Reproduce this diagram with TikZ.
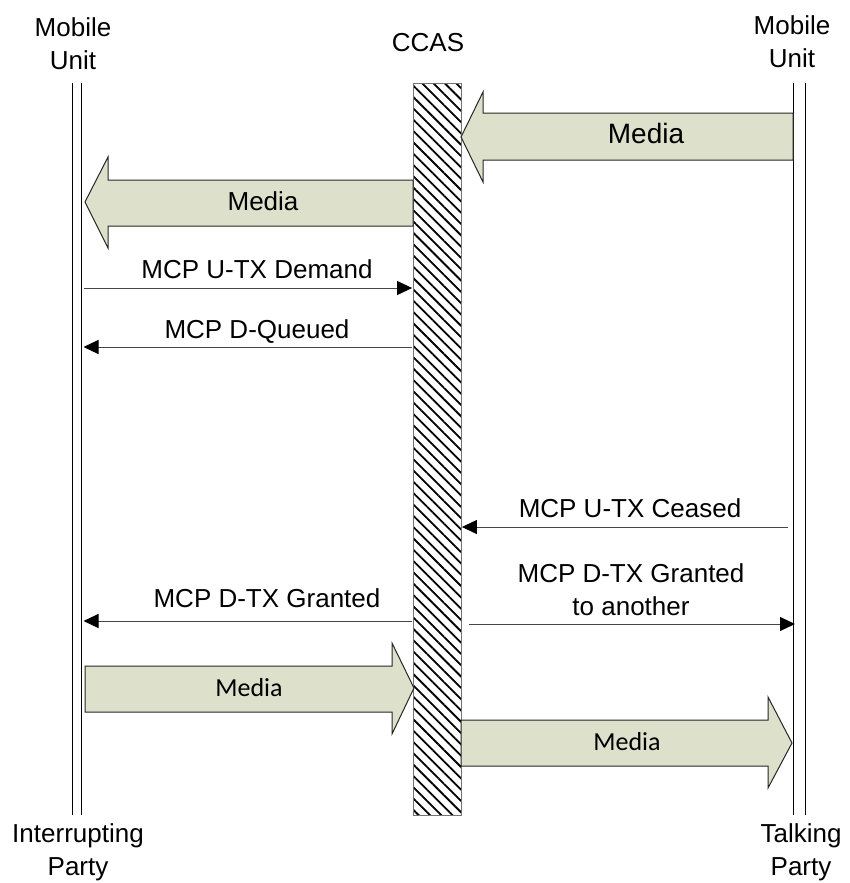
\documentclass[tikz,border=0pt]{standalone}
\usepackage{fontspec}
\setmainfont{Liberation Sans}
\newfontfamily\mediafont{Carlito}
\usetikzlibrary{arrows.meta,patterns.meta}
\definecolor{mediafill}{RGB}{221,224,203}
\definecolor{msggray}{RGB}{70,70,70}
\tikzset{
  lbl/.style={font=\fontsize{26}{33}\selectfont, inner sep=0pt, anchor=base, align=center},
  msg/.style={draw=msggray, line width=1pt, -{Triangle[length=15pt,width=14pt,color=black]}},
  media/.style={draw=black!85, fill=mediafill, line width=1pt, line join=miter},
  lifeline/.style={minimum width=#1, minimum height=732pt, inner sep=0pt, outer sep=0pt}
}

\begin{document}
\begin{tikzpicture}[x=1pt, y=-1pt]
  \useasboundingbox (0,0) rectangle (849,883);

  % parties
  \node[lifeline=9pt] (mul) at (77,449) {};
  \node[lifeline=12pt] (mur) at (799,449) {};
  \node[draw=black!55, line width=1pt, pattern={Lines[angle=-45,distance=8pt,line width=1.8pt]},
        minimum width=48pt, minimum height=732pt, inner sep=0pt] (ccas) at (437,449) {};
  \draw[line width=1pt] (mul.north west) -- (mul.south west) (mul.north east) -- (mul.south east);
  \draw[line width=1pt] (mur.north west) -- (mur.south west) (mur.north east) -- (mur.south east);

  % multi-line labels sit on the baseline of their last line
  \node[lbl] (mutop1) at (73,70) {Mobile\\Unit};
  \node[lbl] (mutop2) at (792,67) {Mobile\\Unit};
  \node[lbl] (ccaslbl) at (428,52) {CCAS};
  \node[lbl] (interrupt) at (78,875) {Interrupting\\Party};
  \node[lbl] (talking) at (801,875) {Talking\\Party};

  % media streams
  \draw[media] (793,113) -- (483,113) -- (483,92) -- (461,137) -- (483,182) -- (483,160) -- (793,160) -- cycle;
  \draw[media] (413,180) -- (108,180) -- (108,157) -- (85,202) -- (108,248) -- (108,226) -- (413,226) -- cycle;
  \draw[media] (85,666) -- (392,666) -- (392,643) -- (414,688) -- (392,734) -- (392,712) -- (85,712) -- cycle;
  \draw[media] (461,720) -- (768,720) -- (768,697) -- (792,743) -- (768,788) -- (768,766) -- (461,766) -- cycle;
  \node[lbl, font=\fontsize{28}{33}\selectfont] (media1) at (646,143) {Media};
  \node[lbl] (media2) at (263,210) {Media};
  \node[lbl, font=\mediafont\fontsize{26}{33}\selectfont] (media3) at (249,696) {Media};
  \node[lbl, font=\mediafont\fontsize{26}{33}\selectfont] (media4) at (627,750) {Media};

  % signalling
  \coordinate (demand) at (0,288);
  \coordinate (queued) at (0,347);
  \coordinate (ceased) at (0,527);
  \coordinate (granted) at (0,621);
  \coordinate (another) at (0,624);
  \draw[msg, shorten <=2pt] (mul.east |- demand) -- (ccas.west |- demand);
  \draw[msg, shorten >=2pt] (ccas.west |- queued) -- (mul.east |- queued);
  \draw[msg, shorten <=5pt] (mur.west |- ceased) -- (ccas.east |- ceased);
  \draw[msg, shorten >=2pt] (ccas.west |- granted) -- (mul.east |- granted);
  \draw[msg, shorten <=7pt, shorten >=-2pt] (ccas.east |- another) -- (mur.west |- another);

  \node[lbl] (demandlbl) at (257,278) {MCP U-TX Demand};
  \node[lbl] (queuedlbl) at (257,338) {MCP D-Queued};
  \node[lbl] (ceasedlbl) at (630,517) {MCP U-TX Ceased};
  \node[lbl] (grantedlbl) at (267,607) {MCP D-TX Granted};
  \node[lbl] (anotherlbl) at (631,615) {MCP D-TX Granted\\to another};
\end{tikzpicture}
\end{document}
